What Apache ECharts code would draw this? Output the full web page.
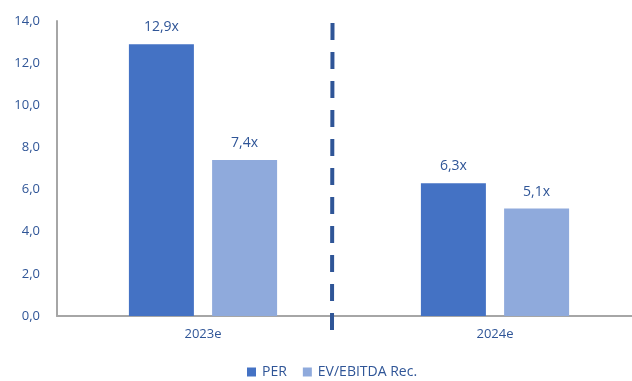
<!DOCTYPE html>
<html>
<head>
<meta charset="utf-8">
<script src="https://cdn.jsdelivr.net/npm/echarts@6/dist/echarts.min.js"></script>
<style>
  html, body { margin: 0; padding: 0; background: #fff; }
  #chart { width: 632px; height: 381px; }
</style>
</head>
<body>
<div id="chart"></div>
<script>
// Valuation multiples by year
const categories = ['2023e', '2024e'];
const seriesNames = ['PER', 'EV/EBITDA Rec.'];
const perValues = [12.9, 6.3];
const evEbitdaValues = [7.4, 5.1];
const yTicks = [0, 2, 4, 6, 8, 10, 12, 14];

const textBlue = '#2F5597';
const font = '"Open Sans", "Noto Sans", sans-serif';

const chart = echarts.init(document.getElementById('chart'), null, { renderer: 'canvas' });

const labelCfg = {
  show: true,
  position: 'top',
  distance: 10,
  color: textBlue,
  fontFamily: font,
  fontSize: 14,
  formatter: p => p.value.toFixed(1).replace('.', ',') + 'x'
};

chart.setOption({
  animation: false,
  backgroundColor: '#ffffff',
  textStyle: { fontFamily: font },
  grid: {
    left: 57, top: 21, width: 584, bottom: 65,
    containLabel: false,
    outerBoundsMode: 'none'
  },
  legend: {
    data: seriesNames,
    bottom: -3,
    left: 242,
    itemWidth: 9,
    itemHeight: 9,
    itemGap: 16,
    icon: 'rect',
    textStyle: { color: textBlue, fontSize: 14, fontFamily: font, padding: [0, 0, 0, 1] }
  },
  xAxis: {
    type: 'category',
    data: categories,
    axisLine: { lineStyle: { color: '#A6A6A6', width: 2 } },
    axisTick: { show: false },
    axisLabel: { color: textBlue, fontSize: 13, fontFamily: font, margin: 12 },
    splitLine: { show: false }
  },
  yAxis: {
    type: 'value',
    min: yTicks[0],
    max: yTicks[yTicks.length - 1],
    interval: 2,
    axisLine: { show: true, lineStyle: { color: '#A6A6A6', width: 2 } },
    axisTick: { show: false },
    splitLine: { show: false },
    axisLabel: {
      color: textBlue, fontSize: 13, fontFamily: font, margin: 17,
      formatter: v => v.toFixed(1).replace('.', ',')
    }
  },
  series: [
    {
      name: seriesNames[0],
      type: 'bar',
      data: perValues,
      barWidth: 65,
      barGap: '28%',
      itemStyle: { color: '#4472C4' },
      label: labelCfg
    },
    {
      name: seriesNames[1],
      type: 'bar',
      data: evEbitdaValues,
      barWidth: 65,
      itemStyle: { color: '#8FAADC' },
      label: labelCfg
    }
  ],
  graphic: [
    {
      type: 'line',
      shape: { x1: 332.5, y1: 23, x2: 332, y2: 331 },
      style: { stroke: '#2F5597', lineWidth: 4, lineDash: [17, 12] },
      z: 10
    }
  ]
});
</script>
</body>
</html>
